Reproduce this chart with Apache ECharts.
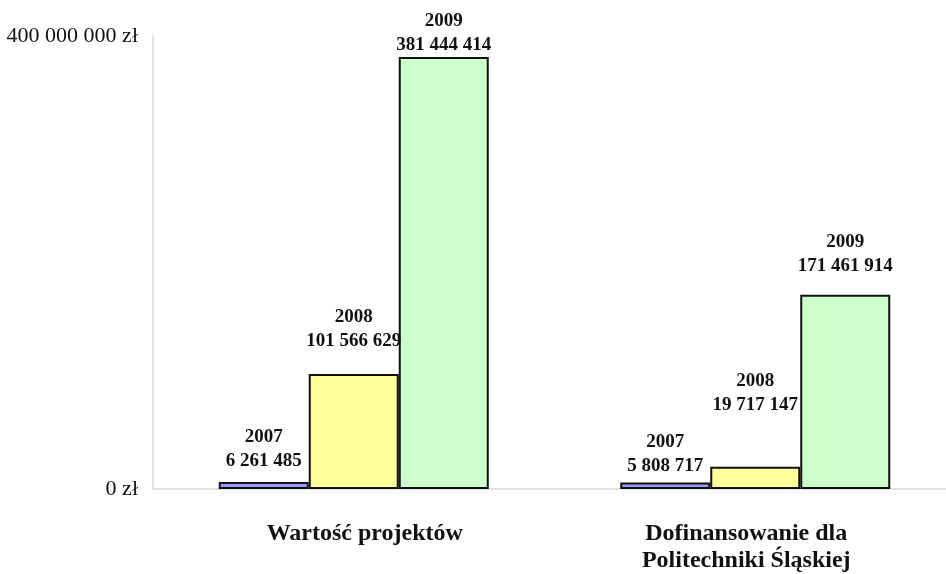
<!DOCTYPE html>
<html>
<head>
<meta charset="utf-8">
<script src="https://cdn.jsdelivr.net/npm/echarts@6/dist/echarts.min.js"></script>
<style>
html,body{margin:0;padding:0;background:#fff;overflow:hidden;width:946px;height:574px;}
#c{width:956px;height:574px;}
</style>
</head>
<body>
<div id="c"></div>
<script>
// ---- data ----
var categories = ['Wartość projektów', 'Dofinansowanie dla\nPolitechniki Śląskiej'];
var years = ['2007', '2008', '2009'];
var values2007 = [6261485, 5808717];
var values2008 = [101566629, 19717147];
var values2009 = [381444414, 171461914];
var yTicks = [0, 400000000];

// ---- styling ----
var colors = ['#9999ff', '#ffff99', '#ccffcc'];
var labelDistances = [[9, 4], [21, 50], [0, 17]];
var catStyles = ['c0', 'c1'];
var FONT = "'Liberation Serif', 'Times New Roman', serif";

function fmt(n) {
  return String(n).replace(/\B(?=(\d{3})+(?!\d))/g, ' ');
}

var seriesValues = [values2007, values2008, values2009];
var series = years.map(function (yr, si) {
  return {
    name: yr,
    type: 'bar',
    barWidth: 90,
    barGap: '0%',
    itemStyle: { color: colors[si], borderColor: '#111', borderWidth: 2 },
    label: {
      show: true,
      position: 'top',
      fontFamily: FONT,
      fontWeight: 'bold',
      fontSize: 19,
      lineHeight: 24,
      color: '#111',
      formatter: function (p) { return yr + '\n' + fmt(p.value); }
    },
    data: seriesValues[si].map(function (v, ci) {
      return { value: v, label: { distance: labelDistances[si][ci] } };
    })
  };
});

var catText = { fontFamily: FONT, fontWeight: 'bold', fontSize: 24, lineHeight: 27, color: '#111' };

var chart = echarts.init(document.getElementById('c'));
chart.setOption({
  animation: false,
  backgroundColor: '#fff',
  grid: { left: 153, right: 0, top: 36, bottom: 85, containLabel: false },
  xAxis: {
    type: 'category',
    data: categories,
    axisLine: { lineStyle: { color: '#d9d9d9', width: 1.5 } },
    axisTick: { show: false },
    axisLabel: {
      fontFamily: FONT,
      fontWeight: 'bold',
      fontSize: 24,
      lineHeight: 27,
      color: '#111',
      margin: 31,
      interval: 0,
      formatter: function (v, i) {
        var st = catStyles[i];
        return v.split('\n').map(function (line) { return '{' + st + '|' + line + '}'; }).join('\n');
      },
      rich: {
        c0: Object.assign({ padding: [0, 0, 0, 22] }, catText),
        c1: Object.assign({ padding: [0, 18, 0, 0] }, catText)
      }
    }
  },
  yAxis: {
    type: 'value',
    min: yTicks[0],
    max: yTicks[yTicks.length - 1],
    interval: yTicks[1] - yTicks[0],
    axisLine: { show: true, lineStyle: { color: '#d9d9d9', width: 1.5 } },
    axisTick: { show: false },
    splitLine: { show: false },
    axisLabel: {
      fontFamily: FONT,
      fontSize: 22,
      color: '#111',
      margin: 15,
      formatter: function (v) { return fmt(v) + ' zł'; }
    }
  },
  series: series
});
</script>
</body>
</html>
